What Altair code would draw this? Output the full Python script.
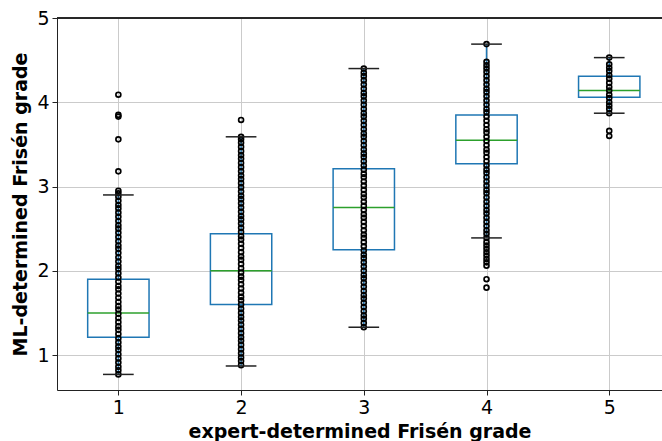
import altair as alt
import pandas as pd

# ---- data ----
grades = [1, 2, 3, 4, 5]
q1 = [1.21, 1.60, 2.25, 3.27, 4.06]
median = [1.50, 2.00, 2.75, 3.55, 4.14]
q3 = [1.90, 2.44, 3.21, 3.85, 4.31]
whisker_lo = [0.77, 0.87, 1.33, 2.39, 3.87]
whisker_hi = [2.90, 3.59, 4.40, 4.69, 4.53]

pts_g1 = [0.77, 0.82, 0.86, 0.91, 0.96, 1.01, 1.06, 1.10, 1.15, 1.20, 1.25, 1.30, 1.34,
          1.39, 1.44, 1.49, 1.54, 1.58, 1.63, 1.68, 1.73, 1.78, 1.82, 1.87, 1.92, 1.97,
          2.02, 2.06, 2.11, 2.16, 2.21, 2.26, 2.30, 2.35, 2.40, 2.45, 2.50, 2.54, 2.59,
          2.64, 2.69, 2.74, 2.78, 2.83, 2.88, 2.92, 2.95, 3.18, 3.56, 3.83, 3.85, 4.09]
pts_g2 = [0.88, 0.93, 0.97, 1.02, 1.07, 1.12, 1.17, 1.21, 1.26, 1.31, 1.36, 1.41, 1.45,
          1.50, 1.55, 1.60, 1.65, 1.69, 1.74, 1.79, 1.84, 1.89, 1.93, 1.98, 2.03, 2.08,
          2.13, 2.17, 2.22, 2.27, 2.32, 2.37, 2.41, 2.46, 2.51, 2.56, 2.61, 2.65, 2.70,
          2.75, 2.80, 2.85, 2.89, 2.94, 2.99, 3.04, 3.09, 3.13, 3.18, 3.23, 3.28, 3.33,
          3.37, 3.42, 3.47, 3.52, 3.56, 3.59, 3.79]
pts_g3 = [1.33, 1.38, 1.43, 1.47, 1.52, 1.57, 1.62, 1.67, 1.71, 1.76, 1.81, 1.86, 1.91,
          1.95, 2.00, 2.05, 2.10, 2.15, 2.19, 2.24, 2.29, 2.34, 2.39, 2.43, 2.48, 2.53,
          2.58, 2.63, 2.67, 2.72, 2.77, 2.82, 2.87, 2.91, 2.96, 3.01, 3.06, 3.11, 3.15,
          3.20, 3.25, 3.30, 3.35, 3.39, 3.44, 3.49, 3.54, 3.59, 3.63, 3.68, 3.73, 3.78,
          3.83, 3.87, 3.92, 3.97, 4.02, 4.07, 4.11, 4.16, 4.21, 4.26, 4.31, 4.35, 4.40]
pts_g4 = [1.80, 1.90, 2.06, 2.10, 2.14, 2.18, 2.22, 2.26, 2.30, 2.34, 2.39, 2.44, 2.48,
          2.53, 2.58, 2.63, 2.68, 2.72, 2.77, 2.82, 2.87, 2.92, 2.96, 3.01, 3.06, 3.11,
          3.16, 3.20, 3.25, 3.30, 3.35, 3.40, 3.44, 3.49, 3.54, 3.59, 3.64, 3.68, 3.73,
          3.78, 3.83, 3.88, 3.92, 3.97, 4.02, 4.07, 4.12, 4.16, 4.21, 4.26, 4.31, 4.36,
          4.40, 4.44, 4.48, 4.69]
pts_g5 = [3.60, 3.66, 3.87, 3.92, 3.96, 4.00, 4.05, 4.09, 4.14, 4.18, 4.23, 4.28, 4.32,
          4.37, 4.41, 4.45, 4.53]

x_title = "expert-determined Frisén grade"
y_title = "ML-determined Frisén grade"
x_ticks = [1, 2, 3, 4, 5]
y_ticks = [1, 2, 3, 4, 5]

# ---- tables ----
pts = pd.DataFrame(
    [(g, v) for g, lst in zip(grades, [pts_g1, pts_g2, pts_g3, pts_g4, pts_g5]) for v in lst],
    columns=["grade", "value"],
)
box = pd.DataFrame({"grade": grades, "q1": q1, "median": median, "q3": q3,
                    "lo": whisker_lo, "hi": whisker_hi})

FONT = "DejaVu Sans"
xs = alt.Scale(domain=[0.5, 5.43], nice=False, zero=False)
ys = alt.Scale(domain=[0.585, 5.0], nice=False, zero=False)

common = dict(format="d", grid=True, gridColor="#cbcbcb", gridWidth=1,
              domainColor="#222222", domainWidth=1, tickColor="#222222", tickSize=5,
              labelFontSize=19, labelColor="black", labelFont=FONT, labelPadding=3,
              titleFont=FONT, titleFontSize=19, titleFontWeight="bold", titleColor="black")
xaxis = alt.Axis(values=x_ticks, title=x_title, titlePadding=5, **common)
yaxis = alt.Axis(values=y_ticks, title=y_title, titlePadding=6, **common)

base_box = alt.Chart(box).transform_calculate(
    left="datum.grade - 0.25", right="datum.grade + 0.25",
    cl="datum.grade - 0.125", cr="datum.grade + 0.125",
)

grid_layer = alt.Chart(pts).mark_point(opacity=0).encode(
    x=alt.X("grade:Q", scale=xs, axis=xaxis),
    y=alt.Y("value:Q", scale=ys, axis=yaxis),
)

LW = 1.5
boxes = base_box.mark_rect(fill=None, stroke="#1f77b4", strokeWidth=LW).encode(
    x=alt.X("left:Q", scale=xs), x2="right:Q",
    y=alt.Y("q1:Q", scale=ys), y2="q3:Q",
)
med = base_box.mark_rule(color="#2ca02c", strokeWidth=LW).encode(
    x=alt.X("left:Q", scale=xs), x2="right:Q", y=alt.Y("median:Q", scale=ys),
)
wh_lo = base_box.mark_rule(color="#1f77b4", strokeWidth=LW).encode(
    x=alt.X("grade:Q", scale=xs), y=alt.Y("lo:Q", scale=ys), y2="q1:Q",
)
wh_hi = base_box.mark_rule(color="#1f77b4", strokeWidth=LW).encode(
    x=alt.X("grade:Q", scale=xs), y=alt.Y("q3:Q", scale=ys), y2="hi:Q",
)
cap_lo = base_box.mark_rule(color="#222222", strokeWidth=LW).encode(
    x=alt.X("cl:Q", scale=xs), x2="cr:Q", y=alt.Y("lo:Q", scale=ys),
)
cap_hi = base_box.mark_rule(color="#222222", strokeWidth=LW).encode(
    x=alt.X("cl:Q", scale=xs), x2="cr:Q", y=alt.Y("hi:Q", scale=ys),
)
points = alt.Chart(pts).mark_point(shape="circle", filled=False, stroke="black",
                                   strokeWidth=1.7, size=24, opacity=1).encode(
    x=alt.X("grade:Q", scale=xs), y=alt.Y("value:Q", scale=ys),
)
top_spine = alt.Chart(box).mark_rule(color="#222222", strokeWidth=1).encode(
    x=alt.value(0), x2=alt.value(700), y=alt.value(0),
)

chart = alt.layer(
    grid_layer, boxes, med, wh_lo, wh_hi, points, cap_lo, cap_hi, top_spine
).properties(
    width=605, height=372,
    autosize=alt.AutoSizeParams(type="none"),
    padding={"left": 57, "top": 18, "right": 0, "bottom": 51},
).configure_view(stroke=None).configure(background="white")

chart.save("out.html", embed_options={"renderer": "svg", "actions": False})
